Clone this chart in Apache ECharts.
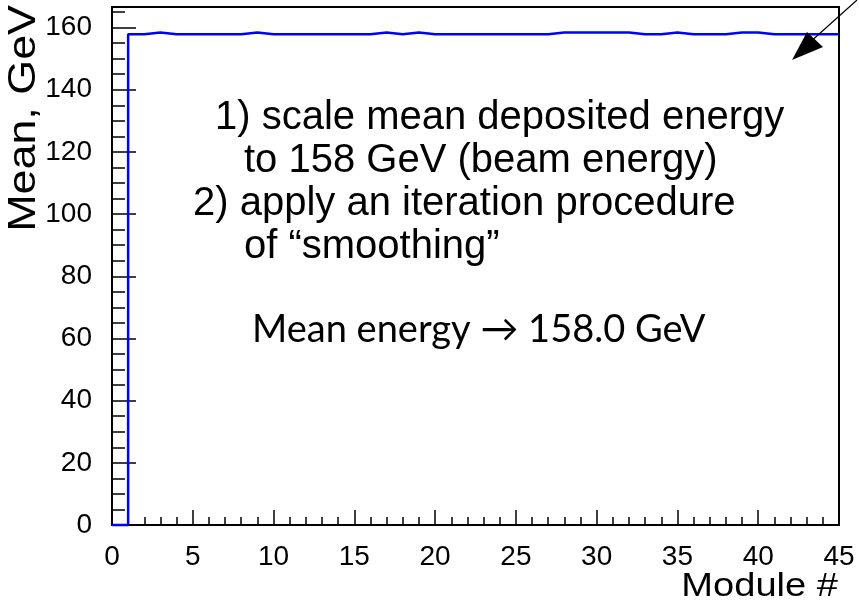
<!DOCTYPE html>
<html>
<head>
<meta charset="utf-8">
<script src="https://cdn.jsdelivr.net/npm/echarts@6/dist/echarts.min.js"></script>
<style>
  html, body { margin: 0; padding: 0; background: #fff; }
  #chart { width: 859px; height: 609px; }
</style>
</head>
<body>
<div id="chart"></div>
<script>
// Module number bin edges (low edge of each bin) and the mean energy per module, GeV
const moduleLowEdges = [0, 1, 2, 3, 4, 5, 6, 7, 8, 9, 10, 11, 12, 13, 14, 15, 16, 17, 18, 19, 20, 21, 22,
  23, 24, 25, 26, 27, 28, 29, 30, 31, 32, 33, 34, 35, 36, 37, 38, 39, 40, 41, 42, 43, 44];
const moduleUpperEdge = 45;
const meanGeV = [0.0, 157.8, 158.4, 157.8, 157.8, 157.8, 157.8, 157.8, 158.4, 157.8,
  157.8, 157.8, 157.8, 157.8, 157.8, 157.8, 158.4, 157.8, 158.4, 157.8,
  157.8, 157.8, 157.8, 157.8, 157.8, 157.8, 157.8, 158.4, 158.4, 158.4,
  158.4, 158.4, 157.8, 157.8, 158.4, 157.8, 157.8, 157.8, 158.4, 158.4,
  157.8, 157.8, 157.8, 157.8, 157.8];

const xTickStep = 5;
const yTickStep = 20;
const yMinorStep = 5;
const yMax = 166.6;

// Histogram outline: one point per bin low edge, closed at the upper edge
const histPoints = moduleLowEdges.map((x, i) => [x, meanGeV[i]]);
histPoints.push([moduleUpperEdge, meanGeV[meanGeV.length - 1]]);

const sansFont = '"Liberation Sans", Arial, Helvetica, sans-serif';
const noteFont = '40px ' + sansFont;

const chart = echarts.init(document.getElementById('chart'), null, { renderer: 'canvas' });

chart.setOption({
  animation: false,
  backgroundColor: '#ffffff',
  grid: {
    left: 112, right: 20, top: 7, bottom: 84,
    show: true, borderColor: '#000', borderWidth: 2, backgroundColor: 'transparent'
  },
  xAxis: {
    type: 'value', min: 0, max: moduleUpperEdge, interval: xTickStep,
    axisLine: { show: true, onZero: false, lineStyle: { color: '#000', width: 2 } },
    axisTick: { show: true, inside: true, length: 15, lineStyle: { color: '#000', width: 1.5 } },
    minorTick: { show: true, splitNumber: 5, length: 8, lineStyle: { color: '#000', width: 1.5 } },
    axisLabel: { color: '#000', fontSize: 28, fontFamily: sansFont, margin: 18 },
    splitLine: { show: false }
  },
  yAxis: [
    {
      type: 'value', min: 0, max: yMax, interval: yTickStep,
      axisLine: { show: true, onZero: false, lineStyle: { color: '#000', width: 2 } },
      axisTick: { show: true, inside: true, length: 24, lineStyle: { color: '#000', width: 1.5 } },
      axisLabel: { color: '#000', fontSize: 28, fontFamily: sansFont, margin: 20, showMaxLabel: false },
      splitLine: { show: false }
    },
    {
      // minor ticks on the left axis
      type: 'value', min: 0, max: yMax, interval: yMinorStep, position: 'left',
      axisLine: { show: false },
      axisTick: { show: true, inside: true, length: 13, lineStyle: { color: '#000', width: 1.5 } },
      axisLabel: { show: false },
      splitLine: { show: false }
    }
  ],
  series: [{
    type: 'line',
    yAxisIndex: 0,
    step: 'end',
    data: histPoints,
    symbol: 'none',
    clip: false,
    lineStyle: { color: '#0000ff', width: 2.5 },
    z: 5
  }],
  graphic: [
    {
      type: 'text', x: 25, y: 5, rotation: Math.PI / 2, scaleX: 1.18,
      style: { text: 'Mean, GeV', fill: '#000', font: '38px ' + sansFont, align: 'right', verticalAlign: 'middle' }
    },
    {
      type: 'text', x: 838, y: 587, scaleX: 1.12,
      style: { text: 'Module #', fill: '#000', font: '34px ' + sansFont, align: 'right', verticalAlign: 'middle' }
    },
    {
      type: 'text', x: 215, y: 118,
      style: { text: '1) scale mean deposited energy', fill: '#000', font: noteFont, verticalAlign: 'middle' }
    },
    {
      type: 'text', x: 244, y: 161,
      style: { text: 'to 158 GeV (beam energy)', fill: '#000', font: noteFont, verticalAlign: 'middle' }
    },
    {
      type: 'text', x: 193, y: 204,
      style: { text: '2) apply an iteration procedure', fill: '#000', font: noteFont, verticalAlign: 'middle' }
    },
    {
      type: 'text', x: 244, y: 247,
      style: { text: 'of \u201csmoothing\u201d', fill: '#000', font: noteFont, verticalAlign: 'middle' }
    },
    {
      type: 'text', x: 252, y: 330,
      style: { text: 'Mean energy \u2192 158.0 GeV', fill: '#000', font: '38px Lato, "Open Sans", sans-serif', verticalAlign: 'middle' }
    },
    {
      type: 'line', z: 20,
      shape: { x1: 857, y1: 0, x2: 808, y2: 44 },
      style: { stroke: '#000', lineWidth: 1.2 }
    },
    {
      type: 'polygon', z: 20,
      shape: { points: [[792, 60], [807, 32], [823, 47]] },
      style: { fill: '#000' }
    }
  ]
});
</script>
</body>
</html>
